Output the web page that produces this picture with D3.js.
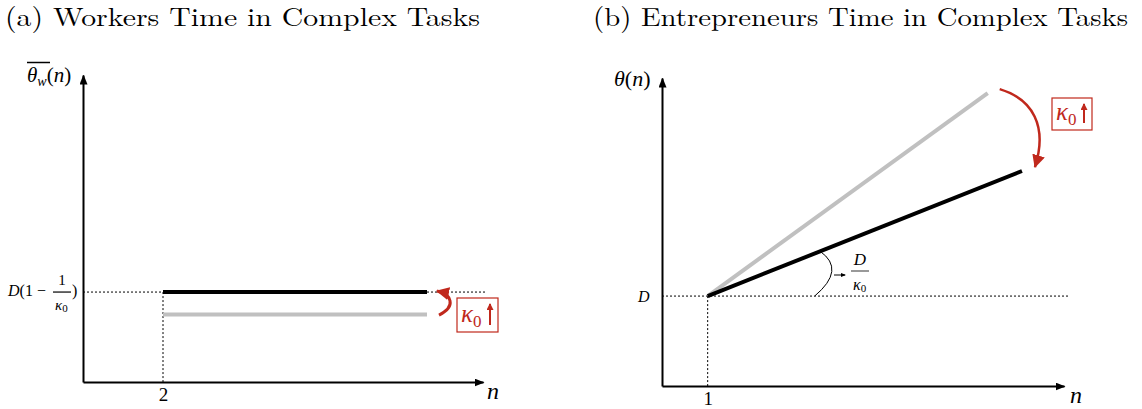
<!DOCTYPE html>
<html>
<head>
<meta charset="utf-8">
<script src="https://cdn.jsdelivr.net/npm/d3@7"></script>
<style>
  body { margin: 0; background: #fff; }
  text { font-family: "Liberation Serif", "DejaVu Serif", serif; }
  text.title { font-family: "Latin Modern Roman", "Liberation Serif", serif; }
</style>
</head>
<body>
<div id="chart"></div>
<script>
// panel (a): workers
const workersN = [2, 8.6];
const workersLow = [2.2, 2.2];      // grey, before kappa0 rises
const workersHigh = [2.93, 2.93];   // black, after
const workersTick = [2];

// panel (b): entrepreneurs
const entrepreneursGreyN = [1, 7.13];
const entrepreneursGrey = [2.92, 9.51];
const entrepreneursBlackN = [1, 7.88];
const entrepreneursBlack = [2.92, 6.98];
const entrepreneursTick = [1];
const dLevel = 2.92;

const titles = ["(a) Workers Time in Complex Tasks", "(b) Entrepreneurs Time in Complex Tasks"];

const red = "#c0281c";

const svg = d3.select("#chart").append("svg")
    .attr("width", 1142)
    .attr("height", 409);

const defs = svg.append("defs");
const marker = (id, color, w, h) => defs.append("marker")
    .attr("id", id)
    .attr("markerUnits", "userSpaceOnUse")
    .attr("viewBox", `0 ${-h / 2} ${w} ${h}`)
    .attr("refX", w - 1).attr("refY", 0)
    .attr("markerWidth", w).attr("markerHeight", h)
    .attr("orient", "auto")
    .append("path")
    .attr("d", `M0,${-h / 2}L${w},0L0,${h / 2}Z`)
    .attr("fill", color);
marker("axisArrow", "#000", 10, 8);
marker("redArrow", red, 13, 13);
marker("smallArrow", "#000", 5, 4);
marker("boxArrow", red, 7, 7);

// titles
svg.append("text").attr("class", "title").attr("x", 5).attr("y", 26).attr("font-size", 26)
    .attr("textLength", 475).attr("lengthAdjust", "spacingAndGlyphs")
    .text(titles[0]);
svg.append("text").attr("class", "title").attr("x", 593).attr("y", 26).attr("font-size", 26)
    .attr("textLength", 535).attr("lengthAdjust", "spacingAndGlyphs")
    .text(titles[1]);

const line = (x, y) => d3.line().x(d => x(d[0])).y(d => y(d[1]));

const drawAxes = (x, y, ticks) => {
    const gx = svg.append("g")
        .attr("transform", `translate(0,${y.range()[0]})`)
        .call(d3.axisBottom(x).tickValues(ticks).tickSize(0).tickSizeOuter(0).tickPadding(6));
    gx.select(".domain").attr("stroke-width", 2).attr("marker-end", "url(#axisArrow)");
    gx.selectAll(".tick text").attr("font-size", 19).attr("font-family", null);

    const gy = svg.append("g")
        .attr("transform", `translate(${x.range()[0]},0)`)
        .call(d3.axisLeft(y).tickValues([]).tickSizeOuter(0));
    gy.select(".domain").attr("stroke-width", 2).attr("marker-end", "url(#axisArrow)");
};

const redBox = (g, x0, y0, w, h) => {
    g.append("rect").attr("x", x0).attr("y", y0).attr("width", w).attr("height", h)
        .attr("fill", "none").attr("stroke", red).attr("stroke-width", 1.2);
    const t = g.append("text").attr("x", x0 + 4).attr("y", y0 + h - 10)
        .attr("fill", red).attr("font-size", 25).attr("font-style", "italic");
    t.append("tspan").text("κ");
    t.append("tspan").attr("font-style", "normal").attr("font-size", 17).attr("dy", 5).text("0");
    g.append("line")
        .attr("x1", x0 + w - 8).attr("x2", x0 + w - 8)
        .attr("y1", y0 + h - 7).attr("y2", y0 + 6)
        .attr("stroke", red).attr("stroke-width", 2)
        .attr("marker-end", "url(#boxArrow)");
};

// ---------- panel (a) ----------
const xa = d3.scaleLinear().domain([0, 10]).range([83, 483]);
const ya = d3.scaleLinear().domain([0, 10]).range([382, 75]);

svg.append("line")
    .attr("x1", xa(0)).attr("x2", xa(10.1))
    .attr("y1", ya(workersHigh[0])).attr("y2", ya(workersHigh[0]))
    .attr("stroke", "#000").attr("stroke-width", 1).attr("stroke-dasharray", "2,2");
svg.append("line")
    .attr("x1", xa(workersN[0])).attr("x2", xa(workersN[0]))
    .attr("y1", ya(workersHigh[0])).attr("y2", ya(0))
    .attr("stroke", "#000").attr("stroke-width", 1).attr("stroke-dasharray", "2,2");

drawAxes(xa, ya, workersTick);

svg.append("path")
    .datum(d3.zip(workersN, workersLow))
    .attr("fill", "none").attr("stroke", "#c0c0c0").attr("stroke-width", 4)
    .attr("d", line(xa, ya));
svg.append("path")
    .datum(d3.zip(workersN, workersHigh))
    .attr("fill", "none").attr("stroke", "#000").attr("stroke-width", 4)
    .attr("d", line(xa, ya));

// y label: overline theta_w(n)
const la = svg.append("text").attr("x", 27).attr("y", 82).attr("font-size", 21).attr("font-style", "italic");
la.append("tspan").text("θ");
la.append("tspan").attr("font-size", 14).attr("dy", 4).text("w");
la.append("tspan").attr("dy", -4).attr("font-style", "normal").text("(");
la.append("tspan").text("n");
la.append("tspan").attr("font-style", "normal").text(")");
svg.append("line").attr("x1", 27).attr("x2", 50).attr("y1", 62.5).attr("y2", 62.5)
    .attr("stroke", "#000").attr("stroke-width", 1.5);

// tick label D(1 - 1/kappa0)
const yh = ya(workersHigh[0]);
const tk = svg.append("text").attr("x", 8).attr("y", yh + 4).attr("font-size", 16);
tk.append("tspan").attr("font-style", "italic").text("D");
tk.append("tspan").text("(1 −");
svg.append("text").attr("x", 62).attr("y", yh - 7).attr("font-size", 15)
    .attr("text-anchor", "middle").text("1");
svg.append("line").attr("x1", 53).attr("x2", 71).attr("y1", yh).attr("y2", yh)
    .attr("stroke", "#000").attr("stroke-width", 1.2);
const den = svg.append("text").attr("x", 55).attr("y", yh + 18).attr("font-size", 15).attr("font-style", "italic");
den.append("tspan").text("κ");
den.append("tspan").attr("font-style", "normal").attr("font-size", 11).attr("dy", 2).text("0");
svg.append("text").attr("x", 72).attr("y", yh + 4).attr("font-size", 16).text(")");

svg.append("text").attr("x", 487).attr("y", 399).attr("font-size", 24).attr("font-style", "italic").text("n");

// red curved arrow (a)
const ea = [xa(workersN[1]), ya(workersHigh[0])];
svg.append("path")
    .attr("d", `M${ea[0] + 12},${ea[1] + 23} C${ea[0] + 30},${ea[1] + 14} ${ea[0] + 24},${ea[1] + 2} ${ea[0] + 10},${ea[1] - 1}`)
    .attr("fill", "none").attr("stroke", red).attr("stroke-width", 3)
    .attr("marker-end", "url(#redArrow)");
redBox(svg.append("g"), 457, 298, 41, 34);

// ---------- panel (b) ----------
const xb = d3.scaleLinear().domain([0, 8.8]).range([662, 1064]);
const yb = d3.scaleLinear().domain([0, 10]).range([386, 78]);

svg.append("line")
    .attr("x1", xb(0)).attr("x2", xb(8.9))
    .attr("y1", yb(dLevel)).attr("y2", yb(dLevel))
    .attr("stroke", "#000").attr("stroke-width", 1).attr("stroke-dasharray", "2,2");
svg.append("line")
    .attr("x1", xb(entrepreneursTick[0])).attr("x2", xb(entrepreneursTick[0]))
    .attr("y1", yb(dLevel)).attr("y2", yb(0))
    .attr("stroke", "#000").attr("stroke-width", 1).attr("stroke-dasharray", "2,2");

drawAxes(xb, yb, entrepreneursTick);

svg.append("path")
    .datum(d3.zip(entrepreneursGreyN, entrepreneursGrey))
    .attr("fill", "none").attr("stroke", "#c0c0c0").attr("stroke-width", 4)
    .attr("d", line(xb, yb));
svg.append("path")
    .datum(d3.zip(entrepreneursBlackN, entrepreneursBlack))
    .attr("fill", "none").attr("stroke", "#000").attr("stroke-width", 4)
    .attr("d", line(xb, yb));

// angle arc between dotted line and black line
const cx = xb(entrepreneursBlackN[0]), cy = yb(entrepreneursBlack[0]);
const ang = Math.atan2(cy - yb(entrepreneursBlack[1]), xb(entrepreneursBlackN[1]) - cx);
const pol = (r, a) => [cx + r * Math.cos(a), cy - r * Math.sin(a)];
const p0 = pol(107, 0), c0 = pol(141, ang / 2), p2 = pol(121, ang);
svg.append("path")
    .attr("d", `M${p0}Q${c0} ${p2}`)
    .attr("fill", "none").attr("stroke", "#000").attr("stroke-width", 1);
svg.append("line").attr("x1", 834).attr("x2", 845).attr("y1", 275).attr("y2", 275)
    .attr("stroke", "#000").attr("stroke-width", 1).attr("marker-end", "url(#smallArrow)");
svg.append("text").attr("x", 860).attr("y", 265).attr("font-size", 17)
    .attr("font-style", "italic").attr("text-anchor", "middle").text("D");
svg.append("line").attr("x1", 851).attr("x2", 869).attr("y1", 271).attr("y2", 271)
    .attr("stroke", "#555").attr("stroke-width", 1.2);
const den2 = svg.append("text").attr("x", 853).attr("y", 290).attr("font-size", 16).attr("font-style", "italic");
den2.append("tspan").text("κ");
den2.append("tspan").attr("font-style", "normal").attr("font-size", 11).attr("dy", 2).text("0");

// labels
svg.append("text").attr("x", 638).attr("y", 302).attr("font-size", 16).attr("font-style", "italic").text("D");
const lb = svg.append("text").attr("x", 614).attr("y", 86).attr("font-size", 22).attr("font-style", "italic");
lb.append("tspan").text("θ");
lb.append("tspan").attr("font-style", "normal").text("(");
lb.append("tspan").text("n");
lb.append("tspan").attr("font-style", "normal").text(")");
svg.append("text").attr("x", 1070).attr("y", 403).attr("font-size", 24).attr("font-style", "italic").text("n");

// red curved arrow (b)
const eg = [xb(entrepreneursGreyN[1]), yb(entrepreneursGrey[1])];
const ebk = [xb(entrepreneursBlackN[1]), yb(entrepreneursBlack[1])];
svg.append("path")
    .attr("d", `M${eg[0] + 12},${eg[1] - 4} C${eg[0] + 45},${eg[1] + 6} ${ebk[0] + 26},${ebk[1] - 45} ${ebk[0] + 13},${ebk[1] - 4}`)
    .attr("fill", "none").attr("stroke", red).attr("stroke-width", 2.5)
    .attr("marker-end", "url(#redArrow)");
redBox(svg.append("g"), 1052, 98, 40, 32);
</script>
</body>
</html>
